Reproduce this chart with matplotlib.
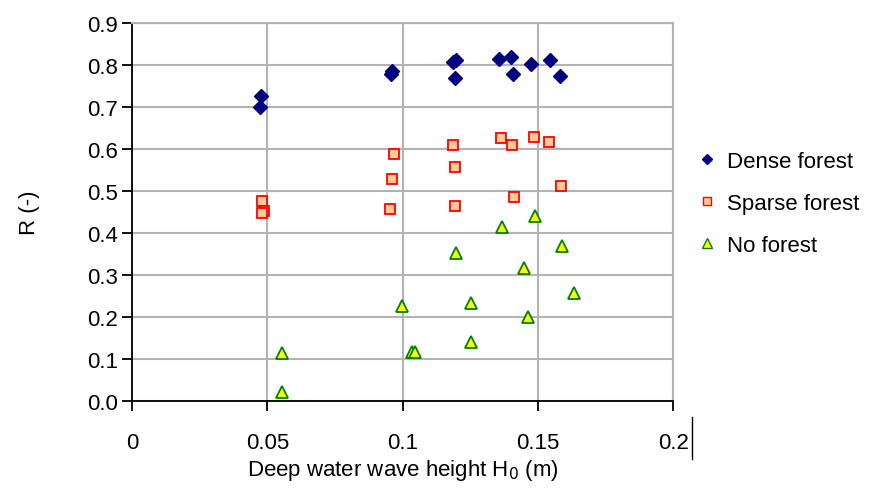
import matplotlib.pyplot as plt
from matplotlib.lines import Line2D

plt.rcParams['font.family'] = ['Liberation Sans', 'DejaVu Sans']

# values
dense_h = [0.0477, 0.0472, 0.0961, 0.0958, 0.1188, 0.1198, 0.1192, 0.1356,
           0.1401, 0.1407, 0.1476, 0.1545, 0.1583]
dense_r = [0.726, 0.700, 0.786, 0.778, 0.808, 0.812, 0.770, 0.815,
           0.819, 0.778, 0.803, 0.811, 0.774]

sparse_h = [0.0480, 0.0488, 0.0482, 0.0954, 0.0961, 0.0969, 0.1187, 0.1194,
            0.1194, 0.1364, 0.1405, 0.1410, 0.1484, 0.1540, 0.1586]
sparse_r = [0.475, 0.452, 0.447, 0.458, 0.528, 0.588, 0.610, 0.556,
            0.463, 0.626, 0.610, 0.486, 0.629, 0.616, 0.511]

none_h = [0.0553, 0.0553, 0.0997, 0.1035, 0.1047, 0.1198, 0.1254, 0.1254,
          0.1368, 0.1449, 0.1462, 0.1488, 0.1588, 0.1633]
none_r = [0.021, 0.114, 0.225, 0.116, 0.116, 0.352, 0.233, 0.140,
          0.413, 0.316, 0.201, 0.441, 0.368, 0.258]

x_ticks = [0, 0.05, 0.1, 0.15, 0.2]
x_labels = ['0', '0.05', '0.1', '0.15', '0.2']
y_ticks = [0.0, 0.1, 0.2, 0.3, 0.4, 0.5, 0.6, 0.7, 0.8, 0.9]

fig = plt.figure(figsize=(8.8, 4.89), dpi=100)
ax = fig.add_axes([0.15, 0.178, 0.615, 0.773])

grid_col = '#b3b3b3'
ax.plot(dense_h, dense_r, linestyle='none', marker='D', markersize=7.5,
        color='#000080', label='Dense forest', zorder=3)
ax.plot(sparse_h, sparse_r, linestyle='none', marker='s', markersize=7.5,
        markerfacecolor='#ffcc99', markeredgecolor='#ff0000', markeredgewidth=1.3,
        label='Sparse forest', zorder=3)
ax.plot(none_h, none_r, linestyle='none', marker='^', markersize=9,
        markerfacecolor='#ffff00', markeredgecolor='#008000', markeredgewidth=1.3,
        label='No forest', zorder=3)

ax.set_xlim(0, 0.2)
ax.set_ylim(0, 0.9)
ax.set_xticks(x_ticks)
ax.set_xticklabels(x_labels)
ax.set_yticks(y_ticks)
ax.set_yticklabels(['%.1f' % v for v in y_ticks])
ax.grid(True, color=grid_col, linewidth=1.5)
ax.set_axisbelow(True)

ax.spines['left'].set_color('black')
ax.spines['bottom'].set_color('black')
ax.spines['left'].set_linewidth(1.3)
ax.spines['bottom'].set_linewidth(1.3)
ax.spines['top'].set_color(grid_col)
ax.spines['right'].set_color(grid_col)
ax.spines['top'].set_linewidth(1.5)
ax.spines['right'].set_linewidth(1.5)

ax.tick_params(axis='both', direction='out', length=7, width=1.3, labelsize=16)
ax.tick_params(axis='x', pad=15)
ax.tick_params(axis='y', pad=3)

ax.set_xlabel('Deep water wave height H$_0$ (m)', fontsize=16, labelpad=3)
ax.set_ylabel('R (-)', fontsize=16, labelpad=34)

handles = [
    Line2D([], [], linestyle='none', marker='D', markersize=5, color='#000080'),
    Line2D([], [], linestyle='none', marker='s', markersize=5.5,
           markerfacecolor='#ffcc99', markeredgecolor='#ff0000'),
    Line2D([], [], linestyle='none', marker='^', markersize=6.5,
           markerfacecolor='#ffff00', markeredgecolor='#008000'),
]
fig.legend(handles, ['Dense forest', 'Sparse forest', 'No forest'],
           loc='center left', bbox_to_anchor=(0.771, 0.582), frameon=False,
           fontsize=16, handlelength=0.8, handletextpad=0.5, labelspacing=0.95)

# stray cursor mark next to the last tick label
fig.add_artist(Line2D([0.786, 0.786], [1 - 460 / 489, 1 - 418 / 489],
                      color='black', linewidth=1))

fig.savefig('out.png', dpi=100)
